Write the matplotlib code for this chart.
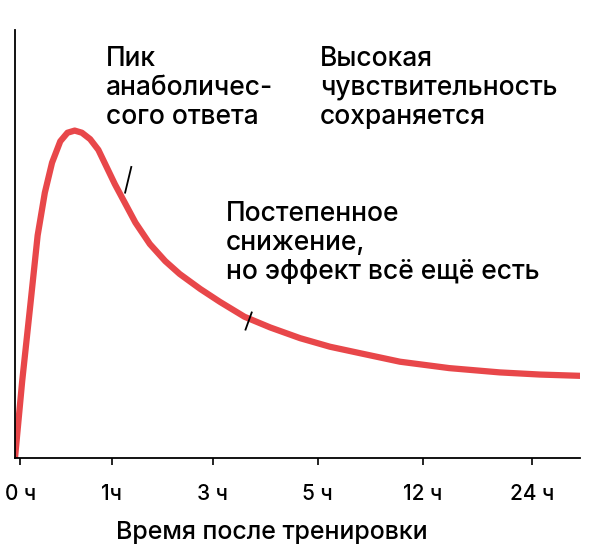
import numpy as np
import matplotlib.pyplot as plt

plt.rcParams['font.family'] = ['Inter', 'DejaVu Sans']

tick_labels = ['0 ч', '1ч', '3 ч', '5 ч', '12 ч', '24 ч']
tick_pos = [0.05, 0.94, 1.92, 2.94, 3.96, 5.02]
# curve (x in tick units, y in % of axis height)
curve_x = [0, 0.07, 0.15, 0.22, 0.29, 0.36, 0.44, 0.51, 0.58, 0.65, 0.73, 0.81,
           0.88, 0.97, 1.07, 1.17, 1.31, 1.46, 1.60, 1.80, 1.99, 2.23, 2.48,
           2.77, 3.06, 3.35, 3.74, 4.22, 4.71, 5.10, 5.49]
curve_y = [0, 18, 36, 52, 62, 69, 74, 76, 76.5, 76, 74.5, 72,
           68.5, 64, 59.5, 55, 50, 46, 43, 39.5, 36.5, 33, 30.5,
           28, 26, 24.5, 22.5, 21, 20, 19.5, 19.2]

W, H = 611, 557
fig = plt.figure(figsize=(W / 100, H / 100), dpi=100)
ax = fig.add_axes([15 / W, (H - 458) / H, 565 / W, 428 / H])
ax.plot(curve_x, curve_y, color='#e8474a', lw=4.5, solid_capstyle='round',
        solid_joinstyle='round')
ax.set_xlim(0, 5.49)
ax.set_ylim(0, 100)
ax.set_yticks([])
ax.set_xticks(tick_pos)
ax.set_xticklabels(tick_labels, fontsize=15, fontweight='medium')
ax.tick_params(axis='x', length=5, width=1.2, pad=14)
for s in ['top', 'right']:
    ax.spines[s].set_visible(False)
ax.spines['left'].set_linewidth(1.3)
ax.spines['bottom'].set_linewidth(1.3)

# small pointer strokes
ax.plot([1.07, 1.13], [62, 68], color='black', lw=1.3)
ax.plot([2.24, 2.30], [30, 34], color='black', lw=1.3)

def ptext(x, y, s):
    fig.text(x / W, 1 - y / H, s, fontsize=19, fontweight='medium',
             va='top', ha='left', linespacing=1.15)

ptext(106, 46, 'Пик\nанаболичес-\nсого ответа')
ptext(320, 46, 'Высокая\nчувствительность\nсохраняется')
ptext(226, 201, 'Постепенное\nснижение,\nно эффект всё ещё есть')
fig.text(272 / W, 1 - 533 / H, 'Время после тренировки', fontsize=18,
         fontweight='medium', ha='center', va='center')

fig.savefig('out.png', dpi=100)
